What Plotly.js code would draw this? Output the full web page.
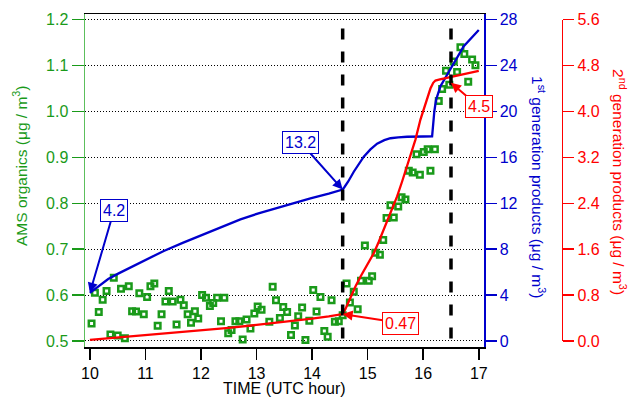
<!DOCTYPE html>
<html>
<head>
<meta charset="utf-8">
<script src="https://cdn.plot.ly/plotly-3.0.1.min.js"></script>
<style>html,body{margin:0;padding:0;background:#fff;}#chart{width:635px;height:397px;}</style>
</head>
<body>
<div id="chart"></div>
<script>
// AMS organics (left axis)
var amsTime = [10.03,10.09,10.16,10.23,10.30,10.37,10.43,10.50,10.56,10.63,10.70,10.76,10.83,10.89,10.97,11.03,11.09,11.16,11.22,11.29,11.36,11.42,11.49,11.56,11.63,11.69,11.76,11.82,11.89,11.95,12.02,12.09,12.16,12.22,12.29,12.36,12.42,12.49,12.55,12.62,12.69,12.75,12.82,12.89,12.96,13.02,13.09,13.23,13.29,13.35,13.42,13.48,13.55,13.62,13.69,13.75,13.82,13.88,13.95,14.02,14.08,14.15,14.22,14.28,14.35,14.41,14.48,14.55,14.62,14.68,14.75,14.82,14.88,14.95,15.02,15.08,15.14,15.22,15.28,15.34,15.41,15.47,15.55,15.61,15.68,15.74,15.81,15.88,15.94,16.01,16.08,16.13,16.21,16.28,16.34,16.41,16.47,16.55,16.61,16.67,16.74,16.81,16.88,16.94];
var amsOrg = [0.538,0.605,0.563,0.590,0.609,0.514,0.638,0.512,0.614,0.506,0.619,0.565,0.564,0.604,0.558,0.596,0.619,0.625,0.533,0.558,0.586,0.609,0.586,0.536,0.590,0.578,0.558,0.540,0.565,0.549,0.600,0.594,0.576,0.583,0.594,0.543,0.594,0.517,0.524,0.543,0.543,0.503,0.547,0.527,0.560,0.575,0.568,0.542,0.618,0.589,0.550,0.574,0.563,0.513,0.534,0.554,0.573,0.502,0.544,0.611,0.564,0.596,0.522,0.509,0.589,0.542,0.543,0.556,0.625,0.584,0.607,0.569,0.631,0.708,0.631,0.641,0.692,0.688,0.720,0.768,0.796,0.769,0.793,0.813,0.808,0.871,0.867,0.907,0.862,0.912,0.918,0.871,0.918,1.023,1.049,1.089,1.058,1.109,1.086,1.140,1.125,1.065,1.113,1.101];

// 1st generation products (blue, right axis)
var firstTime = [10.0,10.15,10.33,10.5,10.67,11.0,11.33,11.67,12.0,12.35,12.71,13.05,13.4,13.7,13.97,14.3,14.5,14.55,14.58,14.65,14.75,14.85,14.93,15.05,15.17,15.3,15.41,15.55,15.71,16.0,16.16,16.2,16.23,16.31,16.55,16.73,17.0];
var firstGen = [4.2,4.75,5.4,5.85,6.25,7.05,7.85,8.55,9.2,9.9,10.6,11.15,11.65,12.05,12.43,12.85,13.1,13.2,13.4,13.9,14.75,15.5,16.07,16.7,17.2,17.5,17.67,17.75,17.8,17.82,17.83,20.0,21.0,22.2,24.2,25.7,27.1];

// 2nd generation products (red, far right axis)
var secondTime = [10.0,10.5,11.0,11.5,12.0,12.5,13.0,13.5,14.0,14.3,14.55,14.6,14.69,14.78,14.87,15.0,15.11,15.2,15.29,15.41,15.53,15.62,15.71,15.79,15.86,15.95,16.05,16.13,16.18,16.22,16.3,16.5,16.75,17.0];
var secondGen = [0.02,0.06,0.1,0.15,0.19,0.23,0.28,0.33,0.39,0.43,0.47,0.56,0.77,0.95,1.12,1.34,1.53,1.73,1.94,2.22,2.52,2.78,3.04,3.28,3.51,3.86,4.15,4.4,4.5,4.54,4.56,4.6,4.65,4.71];

var markerTimes = [14.55, 16.5];

var leftTicks = [0.5,0.6,0.7,0.8,0.9,1.0,1.1,1.2];
var leftTickText = ['0.5','0.6','0.7','0.8','0.9','1.0','1.1','1.2'];
var blueTicks = [0,4,8,12,16,20,24,28];
var redTicks = [0,0.8,1.6,2.4,3.2,4.0,4.8,5.6];
var redTickText = ['0.0','0.8','1.6','2.4','3.2','4.0','4.8','5.6'];
var xTicks = [10,11,12,13,14,15,16,17];

var GREEN = '#1a9a1a', BLUE = '#0000cc', RED = '#ff0000';
var FONT = 'Liberation Sans, Arial, sans-serif';

var traces = [
  {x: amsTime, y: amsOrg, type: 'scatter', mode: 'markers', xaxis: 'x', yaxis: 'y',
   marker: {symbol: 'square-open', size: 5.5, color: GREEN, line: {width: 2.5, color: GREEN}}, hoverinfo: 'none'},
  {x: firstTime, y: firstGen, type: 'scatter', mode: 'lines', xaxis: 'x', yaxis: 'y2',
   line: {color: BLUE, width: 2.3}},
  {x: secondTime, y: secondGen, type: 'scatter', mode: 'lines', xaxis: 'x', yaxis: 'y3',
   line: {color: RED, width: 2.3}}
];

var PW = 550; // plot area width (margin l=85, r=0)
function px(p){ return (p - 85) / PW; }
function py(p){ return (347 - p) / 333; }

var shapes = markerTimes.map(function(t){
  return {type: 'line', xref: 'x', yref: 'y', x0: t, x1: t, y0: 1.181, y1: 0.5,
          line: {color: '#000', width: 3.5, dash: '11px,12px'}};
});

var annFont = function(c){ return {family: FONT, size: 16, color: c}; };
function callout(x, y, yref, text, ax, ay, c){
  return {x: x, y: y, xref: 'x', yref: yref, text: text, showarrow: true, ax: ax, ay: ay,
          arrowcolor: c, arrowwidth: 2, arrowhead: 2, arrowsize: 1, bordercolor: c, borderwidth: 1,
          borderpad: 2, bgcolor: '#fff', font: annFont(c), xanchor: 'center', yanchor: 'middle'};
}
function title(x, y, text, angle, c, size){
  return {xref: 'paper', yref: 'paper', x: px(x), y: py(y), text: text, textangle: angle,
          showarrow: false, xanchor: 'center', yanchor: 'middle',
          font: {family: FONT, size: size, color: c}};
}
var annotations = [
  callout(10.0, 4.2, 'y2', '4.2', 24, -82, BLUE),
  callout(14.55, 13.2, 'y2', '13.2', -42, -47, BLUE),
  callout(14.55, 0.47, 'y3', '0.47', 58, 9, RED),
  callout(16.5, 4.5, 'y3', '4.5', 28, 24, RED),
  title(20, 166, 'AMS organics (μg / m<sup>3</sup>)', -90, GREEN, 15.5),
  title(538, 187, '1<sup>st</sup> generation products (μg / m<sup>3</sup>)', 90, BLUE, 15.5),
  title(619, 182, '2<sup>nd</sup> generation products (μg / m<sup>3</sup>)', 90, RED, 15.5),
  title(284, 388, 'TIME (UTC hour)', 0, '#000', 16)
];

var layout = {
  width: 635, height: 397,
  margin: {l: 85, r: 0, t: 14, b: 50},
  paper_bgcolor: '#fff', plot_bgcolor: 'rgba(0,0,0,0)',
  showlegend: false,
  font: {family: FONT, size: 16},
  xaxis: {domain: [0, 399 / PW], range: [9.912, 17.094], tickvals: xTicks, ticks: 'outside', ticklen: 11,
          tickcolor: '#000', tickwidth: 1.5, showgrid: false, zeroline: false, showline: true, mirror: true,
          linecolor: '#000', linewidth: 1.5, tickfont: {family: FONT, size: 16, color: '#000'}},
  yaxis: {range: [0.4869, 1.2124], tickvals: leftTicks, ticktext: leftTickText, ticks: 'outside', ticklen: 12,
          tickcolor: GREEN, tickwidth: 1.5, showline: true, linecolor: '#5cbf5c', linewidth: 1.5,
          showgrid: true, gridcolor: '#000', gridwidth: 1, griddash: '1px,2px', zeroline: false,
          tickfont: {family: FONT, size: 16, color: GREEN}},
  yaxis2: {overlaying: 'y', side: 'right', anchor: 'x', range: [-0.523, 28.497], tickvals: blueTicks,
           ticks: 'outside', ticklen: 11, tickcolor: BLUE, tickwidth: 1.5, showline: true, linecolor: BLUE,
           linewidth: 1.5, showgrid: false, zeroline: false, tickfont: {family: FONT, size: 16, color: BLUE}},
  yaxis3: {domain: [(347 - 341) / 333, (347 - 19.7) / 333], range: [0, 5.6], anchor: 'free', side: 'right',
           position: px(561.7), tickvals: redTicks, ticktext: redTickText, ticks: 'outside', ticklen: 11,
           tickcolor: RED, tickwidth: 1.5, showline: true, linecolor: RED, linewidth: 1.5, showgrid: false,
           zeroline: false, tickfont: {family: FONT, size: 16, color: RED}},
  shapes: shapes,
  annotations: annotations
};

Plotly.newPlot('chart', traces, layout, {displayModeBar: false, staticPlot: true});
</script>
</body>
</html>
